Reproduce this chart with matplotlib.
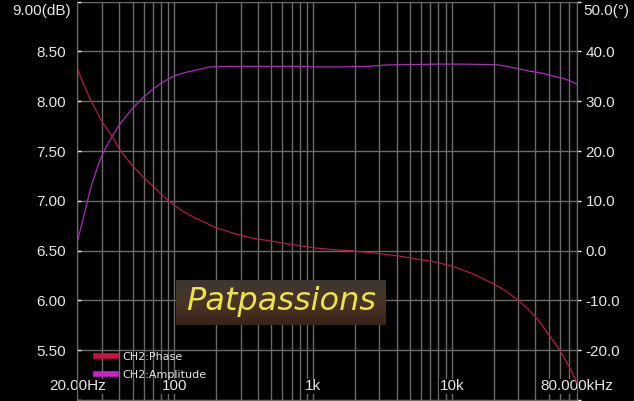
import numpy as np
import matplotlib
matplotlib.use('Agg')
import matplotlib.pyplot as plt
from matplotlib.lines import Line2D

# amplitude (dB)
amp_freq = [20, 21.7, 23.7, 25.5, 27.8, 30, 32.5, 35.8, 40, 45, 50, 60, 70, 80, 90,
            100, 117, 140, 162, 180, 250, 489, 800, 1000, 1500, 2500, 3400, 5000,
            7800, 12000, 21000, 25000, 29300, 37000, 45500, 55000, 63400, 72000, 80000]
amp_db = [6.59, 6.78, 7.00, 7.17, 7.33, 7.45, 7.55, 7.65, 7.76, 7.85, 7.93, 8.04,
          8.12, 8.18, 8.22, 8.255, 8.285, 8.31, 8.33, 8.345, 8.35, 8.35, 8.35, 8.345,
          8.345, 8.35, 8.365, 8.368, 8.373, 8.373, 8.367, 8.35, 8.33, 8.30, 8.28,
          8.25, 8.23, 8.20, 8.17]

# phase (deg)
phase_freq = [20, 22.3, 24.9, 27.4, 30, 35.8, 40, 45, 50, 60, 70, 80, 90, 100, 117,
              130, 162, 200, 281, 351, 400, 489, 610, 800, 1060, 1400, 1840, 2400,
              3200, 4200, 5570, 7000, 8200, 10000, 14300, 20000, 24800, 30000,
              35000, 40000, 45000, 50000, 55000, 60000, 70000, 80000]
phase_deg = [36.5, 33.3, 30.3, 28.1, 26.0, 22.9, 20.5, 18.6, 17.1, 14.7, 13.0, 11.4,
             10.1, 9.1, 7.8, 7.1, 5.8, 4.6, 3.3, 2.6, 2.3, 2.0, 1.5, 1.0, 0.5, 0.2,
             0.0, -0.3, -0.7, -1.1, -1.7, -2.1, -2.5, -3.1, -4.7, -6.7, -8.2, -10.0,
             -11.6, -13.3, -15.1, -17.0, -18.5, -20.0, -23.3, -26.7]

x_ticks = [20, 100, 1000, 10000, 80000]
x_labels = ['20.00Hz', '100', '1k', '10k', '80.000kHz']
db_ticks = [5.0, 5.5, 6.0, 6.5, 7.0, 7.5, 8.0, 8.5, 9.0]
db_labels = ['', '5.50', '6.00', '6.50', '7.00', '7.50', '8.00', '8.50', '']
deg_ticks = [-30, -20, -10, 0, 10, 20, 30, 40, 50]
deg_labels = ['', '-20.0', '-10.0', '0.0', '10.0', '20.0', '30.0', '40.0', '']

grid_c = '#6a6a6a'
text_c = '#e6e6e6'
phase_c = '#b01c44'
amp_c = '#a82cb8'

fig = plt.figure(figsize=(6.34, 4.01), dpi=100, facecolor='black')
ax = fig.add_axes([0.1219, 0.0025, 0.7886, 0.9933])
ax.set_facecolor('black')
ax2 = ax.twinx()

ax.set_xscale('log')
ax.set_xlim(20, 80000)
ax.set_ylim(5.0, 9.0)
ax2.set_ylim(-30, 50)

ax.set_xticks(x_ticks)
ax.set_xticklabels([])
ax.tick_params(axis='x', which='both', length=0)
ax.set_yticks(db_ticks)
ax.set_yticklabels(db_labels, fontsize=11, color=text_c, family='Liberation Sans')
ax.tick_params(axis='y', length=3, width=1, color=text_c, direction='in', pad=8)
ax2.set_yticks(deg_ticks)
ax2.set_yticklabels(deg_labels, fontsize=11, color=text_c, family='Liberation Sans')
ax2.tick_params(axis='y', length=3, width=1, color=text_c, direction='out', pad=3)

ax.grid(True, which='both', axis='x', color=grid_c, linewidth=1)
ax.grid(True, which='major', axis='y', color=grid_c, linewidth=1)
for a in (ax, ax2):
    a.spines['top'].set_visible(False)
    for s in ('left', 'right', 'bottom'):
        a.spines[s].set_color(grid_c)

ax2.plot(phase_freq, phase_deg, color=phase_c, linewidth=0.9)
ax.plot(amp_freq, amp_db, color=amp_c, linewidth=0.9)

# x labels are drawn inside the plot, over the grid
for f, lab in zip(x_ticks, x_labels):
    ax.text(f, 0.034, lab, transform=ax.get_xaxis_transform(), ha='center', va='center',
            fontsize=11, color=text_c, family='Liberation Sans', zorder=5,
            bbox=dict(facecolor='black', edgecolor='none', pad=0.5))

fig.text(70.5 / 634, 1 - 11 / 401, '9.00(dB)', ha='right', va='center', fontsize=11,
         color=text_c, family='Liberation Sans')
fig.text(583 / 634, 1 - 11 / 401, '50.0(°)', ha='left', va='center', fontsize=11,
         color=text_c, family='Liberation Sans')

handles = [Line2D([], [], color='#cc1144', linewidth=4),
           Line2D([], [], color='#cc22cc', linewidth=4)]
leg = ax2.legend(handles, ['CH2:Phase', 'CH2:Amplitude'], loc='lower left',
                 bbox_to_anchor=(0.017, 0.025), frameon=False, handlelength=1.8,
                 handletextpad=0.55, labelspacing=0.7, prop={'size': 8})
for t in leg.get_texts():
    t.set_color(text_c)

# watermark
wm = fig.add_axes([176 / 634, 1 - 325 / 401, 210 / 634, 45 / 401])
grad = np.linspace(0, 1, 50)[:, None] * np.ones((1, 100))
wm.imshow(grad, cmap=matplotlib.colors.LinearSegmentedColormap.from_list(
    'wm', ['#3c3633', '#4a3526', '#3a2418']), aspect='auto', extent=(0, 1, 0, 1))
wm.set_xlim(0, 1)
wm.set_ylim(0, 1)
wm.axis('off')
wm.text(0.5, 0.52, 'Patpassions', ha='center', va='center', fontsize=23,
        color='#ece34a', style='italic', family='DejaVu Sans')

fig.savefig('out.png', dpi=100, facecolor='black')
